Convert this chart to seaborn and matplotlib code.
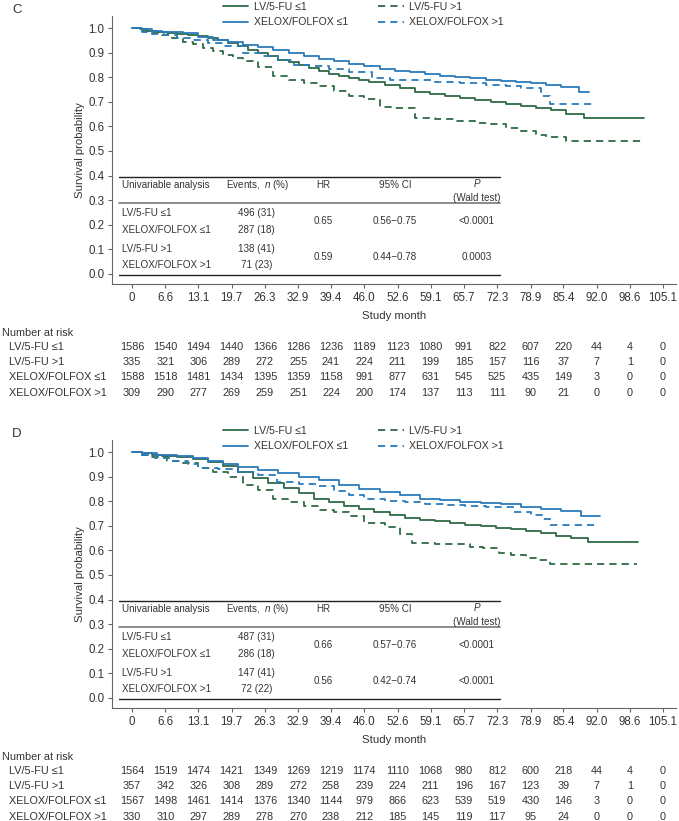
# Kaplan-Meier panels C and D: LV/5-FU vs XELOX/FOLFOX by subgroup

import pandas as pd
import matplotlib.pyplot as plt
import matplotlib.transforms as mtransforms
from matplotlib.lines import Line2D
import seaborn as sns

sns.set_style("ticks")
plt.rcParams['font.family'] = ['Liberation Sans', 'DejaVu Sans']
plt.rcParams['mathtext.fontset'] = 'custom'
plt.rcParams['mathtext.it'] = 'Liberation Sans:italic'
plt.rcParams['mathtext.rm'] = 'Liberation Sans'

# -----------------------------
# Data
# -----------------------------
groups = ["LV/5-FU ≤1", "XELOX/FOLFOX ≤1", "LV/5-FU >1", "XELOX/FOLFOX >1"]
risk_groups = ["LV/5-FU ≤1", "LV/5-FU >1", "XELOX/FOLFOX ≤1", "XELOX/FOLFOX >1"]
month_ticks = [0, 6.6, 13.1, 19.7, 26.3, 32.9, 39.4, 46.0, 52.6, 59.1, 65.7, 72.3, 78.9, 85.4, 92.0, 98.6, 105.1]
month_labels = ["0"] + [f"{m:.1f}" for m in month_ticks[1:]]

# panel C curves (step knots: month, survival)
c_lv_le1_t = [0, 1.5, 3, 5, 7, 9, 11, 13, 15, 17, 19, 21, 23, 25, 27, 29, 31, 33, 35, 37, 39, 41, 43, 45, 47, 50, 53, 56, 59, 62, 65, 68, 71, 74, 77, 80, 83, 86, 89.5, 101.3]
c_lv_le1_s = [1.0, 0.995, 0.99, 0.985, 0.98, 0.977, 0.973, 0.967, 0.96, 0.95, 0.94, 0.925, 0.912, 0.897, 0.885, 0.872, 0.86, 0.85, 0.838, 0.826, 0.815, 0.805, 0.797, 0.789, 0.78, 0.77, 0.755, 0.74, 0.73, 0.722, 0.715, 0.706, 0.698, 0.69, 0.682, 0.675, 0.665, 0.652, 0.635, 0.635]
c_xf_le1_t = [0, 2, 4, 6, 8, 10, 13, 16, 19, 22, 25, 28, 31, 34, 37, 40, 43, 46, 49, 52, 55, 58, 61, 64, 67, 70, 73, 76, 79, 82, 85, 88.5, 90.4]
c_xf_le1_s = [1.0, 0.995, 0.99, 0.985, 0.982, 0.978, 0.965, 0.952, 0.942, 0.932, 0.922, 0.91, 0.9, 0.888, 0.876, 0.866, 0.855, 0.845, 0.835, 0.827, 0.82, 0.812, 0.806, 0.8, 0.795, 0.79, 0.785, 0.78, 0.775, 0.768, 0.762, 0.74, 0.74]
c_lv_gt1_t = [0, 2, 4, 6, 8, 10, 12, 14, 16, 18, 20, 22, 25, 28, 31, 34, 37, 40, 43, 46, 49, 52, 56, 60, 64, 68, 71, 74, 77, 80, 82, 86, 100.8]
c_lv_gt1_s = [1.0, 0.99, 0.98, 0.97, 0.96, 0.945, 0.935, 0.92, 0.905, 0.89, 0.878, 0.865, 0.84, 0.805, 0.79, 0.775, 0.765, 0.745, 0.725, 0.71, 0.68, 0.675, 0.635, 0.63, 0.62, 0.615, 0.61, 0.595, 0.58, 0.565, 0.555, 0.54, 0.54]
c_xf_gt1_t = [0, 2, 4, 6.4, 9, 12, 15, 18, 22, 26, 29, 32, 35, 39, 43, 47.5, 51, 55, 60, 65, 70, 74, 77, 81, 82.8, 91.3]
c_xf_gt1_s = [1.0, 0.985, 0.977, 0.97, 0.96, 0.95, 0.94, 0.925, 0.9, 0.885, 0.87, 0.85, 0.845, 0.835, 0.82, 0.795, 0.79, 0.787, 0.78, 0.775, 0.768, 0.765, 0.755, 0.725, 0.69, 0.69]

# panel D curves
d_lv_le1_t = [0, 2, 4, 6, 9, 12, 15, 18, 21, 24, 27, 30, 33, 36, 39, 42, 45, 48, 51, 54, 57, 60, 63, 66, 69, 72, 75, 78, 81, 84, 87, 90.2, 100.2]
d_lv_le1_s = [1.0, 0.995, 0.99, 0.985, 0.98, 0.97, 0.96, 0.945, 0.92, 0.895, 0.875, 0.855, 0.835, 0.81, 0.795, 0.78, 0.768, 0.755, 0.742, 0.732, 0.725, 0.72, 0.712, 0.705, 0.698, 0.692, 0.685, 0.678, 0.67, 0.66, 0.65, 0.635, 0.635]
d_xf_le1_t = [0, 2, 5, 9, 12, 15, 18, 21, 25, 29, 33, 37, 41, 45, 49, 53, 57, 61, 65, 69, 73, 77, 81, 85, 88.8, 92.6]
d_xf_le1_s = [1.0, 0.995, 0.99, 0.985, 0.975, 0.962, 0.95, 0.94, 0.927, 0.915, 0.9, 0.885, 0.865, 0.85, 0.837, 0.825, 0.81, 0.803, 0.797, 0.792, 0.787, 0.775, 0.77, 0.762, 0.74, 0.74]
d_lv_gt1_t = [0, 2, 4, 7, 10, 13, 16, 19, 22, 25, 28, 31, 34, 37, 40, 43, 46, 50, 53, 55.4, 60, 64, 67, 69.5, 72.6, 75, 78, 80, 82.8, 100]
d_lv_gt1_s = [1.0, 0.99, 0.98, 0.965, 0.955, 0.935, 0.92, 0.9, 0.865, 0.845, 0.81, 0.795, 0.78, 0.765, 0.755, 0.74, 0.71, 0.695, 0.667, 0.632, 0.628, 0.625, 0.615, 0.61, 0.59, 0.58, 0.57, 0.56, 0.545, 0.545]
d_xf_gt1_t = [0, 2, 4.5, 8, 11, 13, 17, 21, 25, 28.8, 33, 36.6, 40, 43, 46, 50, 54, 58, 62, 66, 70, 73, 75.7, 79, 81.2, 82.8, 91.4]
d_xf_gt1_s = [1.0, 0.99, 0.975, 0.965, 0.95, 0.935, 0.93, 0.92, 0.905, 0.88, 0.87, 0.86, 0.84, 0.825, 0.81, 0.8, 0.795, 0.788, 0.783, 0.78, 0.777, 0.775, 0.755, 0.745, 0.728, 0.705, 0.705]

# number at risk (rows in risk_groups order)
c_risk = [
    [1586, 1540, 1494, 1440, 1366, 1286, 1236, 1189, 1123, 1080, 991, 822, 607, 220, 44, 4, 0],
    [335, 321, 306, 289, 272, 255, 241, 224, 211, 199, 185, 157, 116, 37, 7, 1, 0],
    [1588, 1518, 1481, 1434, 1395, 1359, 1158, 991, 877, 631, 545, 525, 435, 149, 3, 0, 0],
    [309, 290, 277, 269, 259, 251, 224, 200, 174, 137, 113, 111, 90, 21, 0, 0, 0],
]
d_risk = [
    [1564, 1519, 1474, 1421, 1349, 1269, 1219, 1174, 1110, 1068, 980, 812, 600, 218, 44, 4, 0],
    [357, 342, 326, 308, 289, 272, 258, 239, 224, 211, 196, 167, 123, 39, 7, 1, 0],
    [1567, 1498, 1461, 1414, 1376, 1340, 1144, 979, 866, 623, 539, 519, 430, 146, 3, 0, 0],
    [330, 310, 297, 289, 278, 270, 238, 212, 185, 145, 119, 117, 95, 24, 0, 0, 0],
]

# univariable table
table_labels = ["LV/5-FU ≤1", "XELOX/FOLFOX ≤1", "LV/5-FU >1", "XELOX/FOLFOX >1"]
c_events = ["496 (31)", "287 (18)", "138 (41)", "71 (23)"]
c_hr = ["0.65", "0.59"]
c_ci = ["0.56\u22120.75", "0.44\u22120.78"]
c_p = ["<0.0001", "0.0003"]
d_events = ["487 (31)", "286 (18)", "147 (41)", "72 (22)"]
d_hr = ["0.66", "0.56"]
d_ci = ["0.57\u22120.76", "0.42\u22120.74"]
d_p = ["<0.0001", "<0.0001"]

# -----------------------------
# Styles
# -----------------------------
GREEN = "#2e6a46"
BLUE = "#2b7bbb"
TXT = "#333333"
palette = {groups[0]: GREEN, groups[1]: BLUE, groups[2]: GREEN, groups[3]: BLUE}
dash_map = {groups[0]: "", groups[1]: "", groups[2]: (4, 2.8), groups[3]: (4, 2.8)}

W, H = 679, 821
fig = plt.figure(figsize=(W / 100, H / 100), dpi=100)


def fy(py):
    return 1 - py / H


def draw_panel(ax, letter, top_px, curves, events, hr, ci, pvals, risk):
    df = pd.concat([pd.DataFrame({"month": t, "surv": s, "group": g})
                    for g, (t, s) in zip(groups, curves)], ignore_index=True)
    sns.lineplot(data=df, x="month", y="surv", hue="group", style="group",
                 palette=palette, dashes=dash_map, estimator=None, sort=False,
                 drawstyle="steps-post", linewidth=1.3, legend=False, ax=ax)

    ax.set_xlim(-3.96, 107.7)
    ax.set_ylim(-0.041, 1.049)
    ax.set_xticks(month_ticks)
    ax.set_xticklabels(month_labels)
    ax.set_yticks([i / 10 for i in range(11)])
    ax.set_yticklabels([f"{i / 10:.1f}" for i in range(11)])
    ax.set_xlabel("")
    ax.set_ylabel("Survival probability", fontsize=8.2, color=TXT, labelpad=2)
    for side in ["top", "right"]:
        ax.spines[side].set_visible(False)
    for side in ["left", "bottom"]:
        ax.spines[side].set_color("#666666")
        ax.spines[side].set_linewidth(0.8)
    ax.tick_params(length=3, width=0.8, color="#666666", labelsize=8.3,
                   labelcolor=TXT, pad=2.5)

    # legend
    handles = [Line2D([], [], color=palette[g], lw=1.3,
                      linestyle="-" if dash_map[g] == "" else (0, dash_map[g]))
               for g in groups]
    ax.legend(handles, groups, ncol=2, loc="upper left",
              bbox_to_anchor=(223 / W, fy(top_px - 14)), bbox_transform=fig.transFigure,
              frameon=False, fontsize=7.6, handlelength=2.4, handletextpad=0.5,
              columnspacing=2.9, labelspacing=0.5, borderpad=0, borderaxespad=0,
              labelcolor=TXT)

    fig.text(12 / W, fy(top_px - 6), letter, fontsize=9.5, color=TXT, va="center")

    # univariable table inside the axes
    x0, x1 = -2.6, 72.9
    ax.plot([x0, x1], [0.394, 0.394], color="#222222", lw=1.0, clip_on=False)
    ax.plot([x0, x1], [0.289, 0.289], color="#777777", lw=1.2, clip_on=False)
    ax.plot([x0, x1], [-0.006, -0.006], color="#222222", lw=1.0, clip_on=False)
    kw = dict(fontsize=7.1, color=TXT, va="center")
    ax.text(-2.0, 0.362, "Univariable analysis", ha="left", **kw)
    ax.text(24.8, 0.362, r"Events,  $\it{n}$ (%)", ha="center", **kw)
    ax.text(37.8, 0.362, "HR", ha="center", **kw)
    ax.text(52.1, 0.362, "95% CI", ha="center", **kw)
    ax.text(68.3, 0.364, "P", ha="center", style="italic", **kw)
    ax.text(68.3, 0.309, "(Wald test)", ha="center", **kw)
    row_y = [0.248, 0.179, 0.102, 0.037]
    for lab, ev, y in zip(table_labels, events, row_y):
        ax.text(-2.0, y, lab, ha="left", **kw)
        ax.text(24.6, y, ev, ha="center", **kw)
    for k, y in enumerate([0.215, 0.069]):
        ax.text(37.8, y, hr[k], ha="center", **kw)
        ax.text(52.1, y, ci[k], ha="center", **kw)
        ax.text(68.3, y, pvals[k], ha="center", **kw)

    # x label and number at risk
    fig.text(394 / W, fy(top_px + 300), "Study month", fontsize=8.2, color=TXT,
             ha="center", va="center")
    trans = mtransforms.blended_transform_factory(ax.transData, fig.transFigure)
    fig.text(2 / W, fy(top_px + 317), "Number at risk", fontsize=7.8, color=TXT, va="center")
    for r, (lab, counts) in enumerate(zip(risk_groups, risk)):
        yy = fy(top_px + 331 + r * 15.2)
        fig.text(9 / W, yy, lab, fontsize=7.8, color=TXT, va="center")
        for m, n in zip(month_ticks, counts):
            ax.text(m, yy, str(n), transform=trans, fontsize=7.8, color=TXT,
                    ha="center", va="center")


axC = fig.add_axes([112 / W, fy(284), (676 - 112) / W, 268 / H])
axD = fig.add_axes([112 / W, fy(708), (676 - 112) / W, 268 / H])

draw_panel(axC, "C", 16,
           [(c_lv_le1_t, c_lv_le1_s), (c_xf_le1_t, c_xf_le1_s),
            (c_lv_gt1_t, c_lv_gt1_s), (c_xf_gt1_t, c_xf_gt1_s)],
           c_events, c_hr, c_ci, c_p, c_risk)
draw_panel(axD, "D", 440,
           [(d_lv_le1_t, d_lv_le1_s), (d_xf_le1_t, d_xf_le1_s),
            (d_lv_gt1_t, d_lv_gt1_s), (d_xf_gt1_t, d_xf_gt1_s)],
           d_events, d_hr, d_ci, d_p, d_risk)

fig.savefig("out.png", dpi=100)
